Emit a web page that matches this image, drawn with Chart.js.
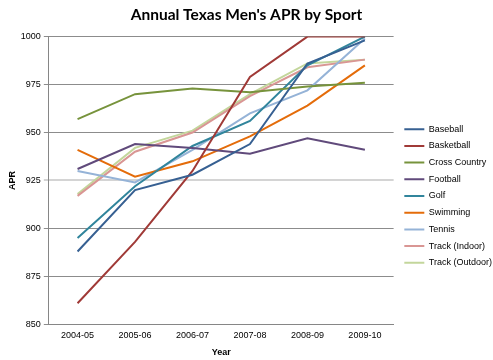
<!DOCTYPE html>
<html>
<head>
<meta charset="utf-8">
<script src="https://cdn.jsdelivr.net/npm/chart.js@4/dist/chart.umd.min.js"></script>
<style>
  html, body { margin: 0; padding: 0; background: #fff; }
  #wrap { width: 493px; height: 360px; }
</style>
</head>
<body>
<div id="wrap"><canvas id="apr" width="493" height="360"></canvas></div>
<script>
const years = ["2004-05", "2005-06", "2006-07", "2007-08", "2008-09", "2009-10"];
const sports = ["Baseball", "Basketball", "Cross Country", "Football", "Golf", "Swimming", "Tennis", "Track (Indoor)", "Track (Outdoor)"];

const baseball     = [888, 920, 928, 944, 986, 998];
const basketball   = [861, 893, 930, 979, 1000, 1000];
const crossCountry = [957, 970, 973, 971, 974, 976];
const football     = [931, 944, 942, 939, 947, 941];
const golf         = [895, 922, 943, 956, 985, 1000];
const swimming     = [941, 927, 935, 948, 964, 985];
const tennis       = [930, 924, 941, 960, 972, 999];
const trackIndoor  = [917, 940, 950, 969, 984, 988];
const trackOutdoor = [918, 942, 951, 970, 986, 988];

const series = [baseball, basketball, crossCountry, football, golf, swimming, tennis, trackIndoor, trackOutdoor];
const colors = ["#376092", "#A03A37", "#77933C", "#604A7B", "#31859C", "#E46C0A", "#95B3D7", "#D99694", "#C3D69B"];

const font = "'Liberation Sans', Arial, sans-serif";

// nudge legend and title to where the original sits
const boxNudge = {
    id: 'boxNudge',
    afterLayout(chart) {
        const lg = chart.legend;
        lg.left += 3; lg.right += 3;
        lg.top += 17; lg.bottom += 17;
        const tb = chart.titleBlock;
        tb.left -= 3; tb.right -= 3;
    }
};

new Chart(document.getElementById('apr'), {
    type: 'line',
    data: {
        labels: years,
        datasets: series.map((s, i) => ({
            label: sports[i],
            data: s,
            borderColor: colors[i],
            backgroundColor: colors[i],
            borderWidth: 2,
            pointRadius: 0,
            tension: 0
        }))
    },
    plugins: [boxNudge],
    options: {
        responsive: false,
        animation: false,
        layout: { padding: { left: 0, right: -6, top: 0, bottom: 2 } },
        plugins: {
            title: {
                display: true,
                text: "Annual Texas Men's APR by Sport",
                font: { family: "Lato, 'Open Sans', sans-serif", size: 15.5, weight: 'bold' },
                color: '#000',
                padding: { top: 6, bottom: 12 }
            },
            legend: {
                position: 'right',
                labels: {
                    usePointStyle: true,
                    pointStyle: 'line',
                    pointStyleWidth: 20,
                    padding: 7.7,
                    font: { family: font, size: 9 },
                    color: '#000'
                }
            },
            tooltip: { enabled: false }
        },
        scales: {
            x: {
                offset: true,
                grid: { display: false, drawTicks: false },
                border: { color: '#868686' },
                ticks: { font: { family: font, size: 9 }, color: '#000', padding: 6 },
                title: { display: true, text: 'Year', font: { family: font, size: 9, weight: 'bold' }, color: '#000', padding: { top: 0, bottom: 0 } }
            },
            y: {
                min: 850,
                max: 1000,
                ticks: { stepSize: 25, font: { family: font, size: 9 }, color: '#000', padding: 3, callback: v => v },
                grid: {
                    color: ctx => ctx.tick && ctx.tick.value === 925 ? '#d4d4d4' : '#8c8c8c',
                    lineWidth: ctx => ctx.tick && ctx.tick.value === 925 ? 2 : 1,
                    tickLength: 5
                },
                border: { color: '#868686' },
                title: { display: true, text: 'APR', font: { family: font, size: 9, weight: 'bold' }, color: '#000', padding: { top: 7, bottom: 0 } }
            }
        }
    }
});
</script>
</body>
</html>
